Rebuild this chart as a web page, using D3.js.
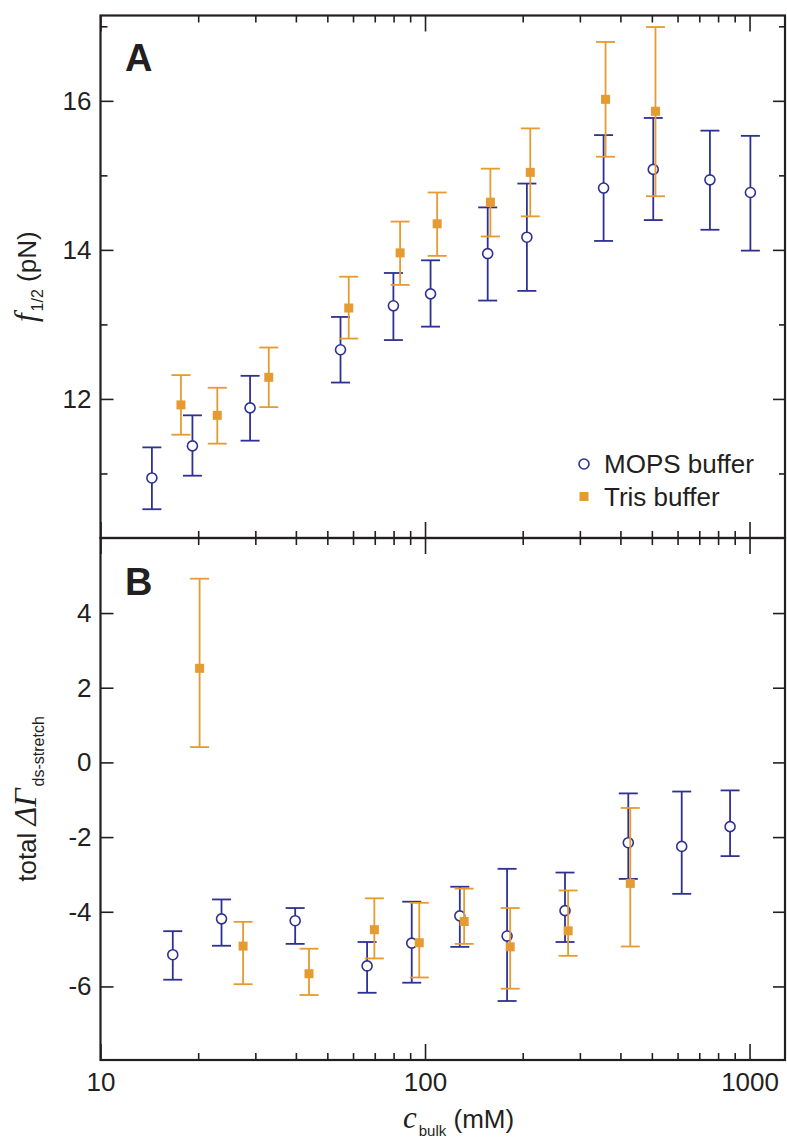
<!DOCTYPE html>
<html>
<head>
<meta charset="utf-8">
<script src="https://cdn.jsdelivr.net/npm/d3@7"></script>
<style>
  body { margin: 0; background: #fff; }
  text { font-family: "Liberation Sans", Arial, Helvetica, sans-serif; fill: #231f20; }
  .serif { font-family: "Liberation Serif", "Times New Roman", serif; font-style: italic; }
</style>
</head>
<body>
<svg id="chart"></svg>
<script>
// salt concentration (mM) and values
const mopsConcA  = [14.4, 19.2, 28.9, 54.9, 79.9, 104, 156, 206, 355, 505, 755, 1006];
const mopsForceA = [10.94, 11.37, 11.88, 12.66, 13.25, 13.41, 13.95, 14.17, 14.83, 15.08, 14.94, 14.77];
const mopsUpperA = [11.35, 11.78, 12.31, 13.10, 13.69, 13.86, 14.57, 14.89, 15.54, 15.77, 15.60, 15.53];
const mopsLowerA = [10.52, 10.97, 11.44, 12.22, 12.79, 12.97, 13.32, 13.45, 14.12, 14.40, 14.27, 13.99];

const trisConcA  = [17.7, 22.9, 33.0, 58.2, 83.8, 109, 159, 211, 360, 513];
const trisForceA = [11.92, 11.78, 12.29, 13.22, 13.96, 14.35, 14.64, 15.04, 16.02, 15.86];
const trisUpperA = [12.32, 12.15, 12.69, 13.64, 14.38, 14.77, 15.09, 15.63, 16.79, 16.99];
const trisLowerA = [11.52, 11.40, 11.89, 12.81, 13.53, 13.92, 14.18, 14.45, 15.25, 14.72];

const mopsConcB  = [16.7, 23.6, 39.8, 66.3, 91.0, 128, 179, 270, 423, 618, 871];
const mopsGammaB = [-5.15, -4.19, -4.24, -5.45, -4.84, -4.11, -4.65, -3.97, -2.15, -2.25, -1.72];
const mopsUpperB = [-4.52, -3.67, -3.90, -4.81, -3.73, -3.33, -2.85, -2.95, -0.83, -0.78, -0.75];
const mopsLowerB = [-5.82, -4.91, -4.86, -6.17, -5.90, -4.94, -6.39, -4.81, -3.12, -3.52, -2.51];

const trisConcB  = [20.2, 27.5, 43.9, 69.8, 96.0, 132, 183, 276, 429];
const trisGammaB = [2.52, -4.92, -5.66, -4.48, -4.83, -4.26, -4.94, -4.51, -3.24];
const trisUpperB = [4.92, -4.27, -4.99, -3.64, -3.76, -3.38, -3.90, -3.43, -1.22];
const trisLowerB = [0.41, -5.94, -6.23, -5.25, -5.76, -4.86, -6.06, -5.18, -4.93];

const xMajorTicks = [10, 100, 1000];
const xMinorTicks = [20, 30, 40, 50, 60, 70, 80, 90, 200, 300, 400, 500, 600, 700, 800, 900];
const yMajorTicksA = [12, 14, 16];
const yMinorTicksA = [11, 13, 15, 17];
const yMajorTicksB = [-6, -4, -2, 0, 2, 4];

const seriesNames = ["MOPS buffer", "Tris buffer"];

const svgWidth = 787, svgHeight = 1140;
const frame = {left: 100.5, right: 785, top: 15.5, mid: 538, bottom: 1060};
const blue = "#2e3192", orange = "#e59a32", ink = "#231f20";

const chart = d3.select("#chart")
    .attr("width", svgWidth)
    .attr("height", svgHeight);

var xScale = d3.scaleLog().domain([10, 1286]).range([frame.left, frame.right]);
var yScaleA = d3.scaleLinear().domain([10.134, 17.145]).range([frame.mid, frame.top]);
var yScaleB = d3.scaleLinear().domain([-7.97, 6.01]).range([frame.bottom, frame.mid]);

function zip(conc, val, up, lo) {
    return conc.map(function(c, i) { return {c: c, v: val[i], up: up[i], lo: lo[i]}; });
}

function styleAxis(g) {
    g.select(".domain").remove();
    g.selectAll(".tick line").attr("stroke", ink).attr("stroke-width", 1.6);
    g.selectAll(".tick text").style("font-size", "26px").attr("fill", ink);
}

// one panel: frame + inward ticks on all four sides
function drawFrame(yScale, top, bottom, yMajor, yMinor, xLabels) {
    var g = chart.append("g");

    g.append("g").attr("transform", "translate(0," + bottom + ")")
        .call(d3.axisBottom(xScale).tickValues(xMajorTicks).tickSizeInner(-16).tickSizeOuter(0)
            .tickPadding(13).tickFormat(xLabels ? d3.format("d") : ""))
        .call(styleAxis);
    g.append("g").attr("transform", "translate(0," + bottom + ")")
        .call(d3.axisBottom(xScale).tickValues(xMinorTicks).tickSize(-7).tickFormat(""))
        .call(styleAxis);
    g.append("g").attr("transform", "translate(0," + top + ")")
        .call(d3.axisTop(xScale).tickValues(xMajorTicks).tickSize(-16).tickFormat(""))
        .call(styleAxis);
    g.append("g").attr("transform", "translate(0," + top + ")")
        .call(d3.axisTop(xScale).tickValues(xMinorTicks).tickSize(-7).tickFormat(""))
        .call(styleAxis);

    g.append("g").attr("transform", "translate(" + frame.left + ",0)")
        .call(d3.axisLeft(yScale).tickValues(yMajor).tickSizeInner(-13).tickSizeOuter(0)
            .tickPadding(9).tickFormat(d3.format("d")))
        .call(styleAxis);
    g.append("g").attr("transform", "translate(" + frame.right + ",0)")
        .call(d3.axisRight(yScale).tickValues(yMajor).tickSize(-12).tickFormat(""))
        .call(styleAxis);
    if (yMinor.length) {
        g.append("g").attr("transform", "translate(" + frame.left + ",0)")
            .call(d3.axisLeft(yScale).tickValues(yMinor).tickSize(-7).tickFormat(""))
            .call(styleAxis);
        g.append("g").attr("transform", "translate(" + frame.right + ",0)")
            .call(d3.axisRight(yScale).tickValues(yMinor).tickSize(-6).tickFormat(""))
            .call(styleAxis);
    }
    // hyphen minus like the original
    g.selectAll(".tick text").text(function() { return d3.select(this).text().replace("\u2212", "-"); });

    g.append("rect")
        .attr("x", frame.left).attr("y", top)
        .attr("width", frame.right - frame.left).attr("height", bottom - top)
        .attr("fill", "none").attr("stroke", ink).attr("stroke-width", 2.2);
}

function drawSeries(data, yScale, color, marker) {
    var g = chart.append("g");
    var cap = 9.5;
    var bars = g.selectAll(".bar").data(data).enter().append("g");
    bars.append("line")
        .attr("x1", d => xScale(d.c)).attr("x2", d => xScale(d.c))
        .attr("y1", d => yScale(d.up)).attr("y2", d => yScale(d.lo))
        .attr("stroke", color).attr("stroke-width", 1.8);
    ["up", "lo"].forEach(function(k) {
        bars.append("line")
            .attr("x1", d => xScale(d.c) - cap).attr("x2", d => xScale(d.c) + cap)
            .attr("y1", d => yScale(d[k])).attr("y2", d => yScale(d[k]))
            .attr("stroke", color).attr("stroke-width", 1.8);
    });
    if (marker == "circle") {
        bars.append("circle")
            .attr("cx", d => xScale(d.c)).attr("cy", d => yScale(d.v)).attr("r", 5)
            .attr("fill", "#fff").attr("stroke", color).attr("stroke-width", 1.6);
    } else {
        bars.append("rect")
            .attr("x", d => xScale(d.c) - 4.5).attr("y", d => yScale(d.v) - 4.5)
            .attr("width", 9).attr("height", 9).attr("fill", color);
    }
}

drawFrame(yScaleA, frame.top, frame.mid, yMajorTicksA, yMinorTicksA, false);
drawFrame(yScaleB, frame.mid, frame.bottom, yMajorTicksB, [], true);

drawSeries(zip(mopsConcA, mopsForceA, mopsUpperA, mopsLowerA), yScaleA, blue, "circle");
drawSeries(zip(trisConcA, trisForceA, trisUpperA, trisLowerA), yScaleA, orange, "square");
drawSeries(zip(mopsConcB, mopsGammaB, mopsUpperB, mopsLowerB), yScaleB, blue, "circle");
drawSeries(zip(trisConcB, trisGammaB, trisUpperB, trisLowerB), yScaleB, orange, "square");

// panel letters
chart.append("text").attr("x", 125).attr("y", 70.5)
    .style("font-size", "38px").style("font-weight", "bold").text("A");
chart.append("text").attr("x", 125).attr("y", 595)
    .style("font-size", "38px").style("font-weight", "bold").text("B");

// legend
var legend = chart.append("g").attr("transform", "translate(584,464)");
legend.append("circle").attr("cx", 0).attr("cy", 0).attr("r", 5)
    .attr("fill", "#fff").attr("stroke", blue).attr("stroke-width", 1.6);
legend.append("rect").attr("x", -4.5).attr("y", 28).attr("width", 9).attr("height", 9).attr("fill", orange);
legend.selectAll(".lab").data(seriesNames).enter().append("text")
    .attr("x", 20).attr("y", (d, i) => 9 + i * 33)
    .style("font-size", "26px").text(d => d);

// axis titles
var yLabA = chart.append("text")
    .attr("transform", "translate(36," + (frame.top + frame.mid) / 2 + ") rotate(-90)")
    .style("text-anchor", "middle");
yLabA.append("tspan").attr("class", "serif").style("font-size", "31px").text("f");
yLabA.append("tspan").style("font-size", "16px").attr("dx", 2).attr("dy", 7).text("1/2");
yLabA.append("tspan").style("font-size", "26px").attr("dy", -7).text(" (pN)");

var yLabB = chart.append("text")
    .attr("transform", "translate(36," + (frame.mid + frame.bottom) / 2 + ") rotate(-90)")
    .style("text-anchor", "middle");
yLabB.append("tspan").style("font-size", "26px").text("total ");
yLabB.append("tspan").attr("class", "serif").style("font-size", "32px").text("\u0394\u0393");
yLabB.append("tspan").style("font-size", "16px").attr("dx", 2).attr("dy", 8).text("ds-stretch");

var xLab = chart.append("text")
    .attr("x", 403).attr("y", 1128);
xLab.append("tspan").attr("class", "serif").style("font-size", "31px").text("c");
xLab.append("tspan").style("font-size", "15px").attr("dx", 2).attr("dy", 8).text("bulk");
xLab.append("tspan").style("font-size", "26px").attr("dy", -8).text(" (mM)");
</script>
</body>
</html>
